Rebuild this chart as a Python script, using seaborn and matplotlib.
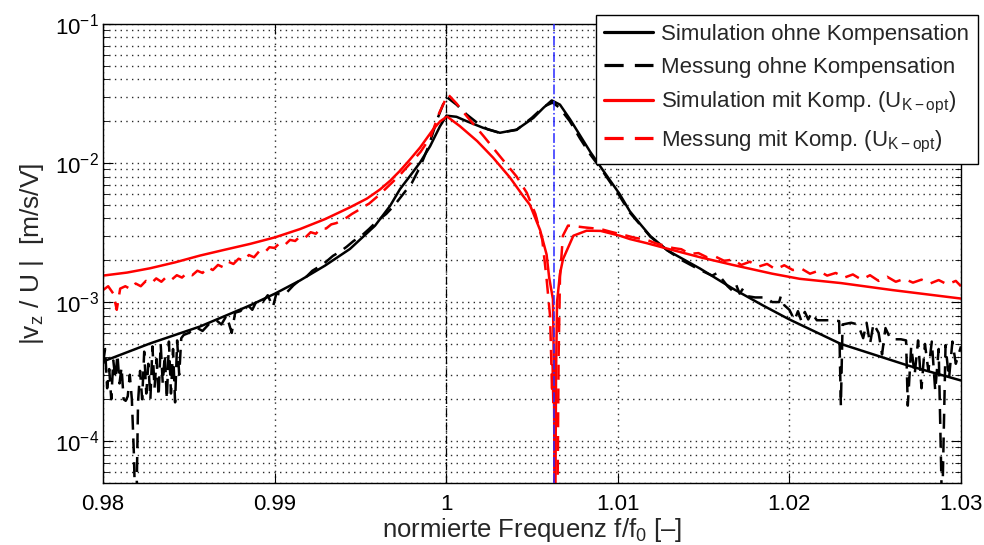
import numpy as np
import pandas as pd
import matplotlib
matplotlib.use("Agg")
import matplotlib.pyplot as plt
import seaborn as sns
from matplotlib.ticker import FixedLocator, FixedFormatter, LogLocator, NullFormatter

# ---------------- data ----------------
# Simulation ohne Kompensation (black solid)
f_sim_ohne = [0.98000, 0.98274, 0.98565, 0.98857, 0.99002, 0.99148, 0.99294, 0.99439,
              0.99585, 0.99673, 0.99731, 0.99789, 0.99848, 0.99906, 0.99964, 1.00002,
              1.00060, 1.00119, 1.00216, 1.00313, 1.00411, 1.00508, 1.00566, 1.00615,
              1.00663, 1.00722, 1.00780, 1.00840, 1.00910, 1.01010, 1.01070, 1.01130,
              1.01190, 1.01290, 1.01480, 1.01670, 1.01850, 1.02000, 1.02300, 1.02690,
              1.03000]
v_sim_ohne = [3.74e-4, 5.04e-4, 6.67e-4, 9.47e-4, 1.15e-3, 1.43e-3, 1.83e-3, 2.41e-3,
              3.54e-3, 4.92e-3, 6.5e-3, 8.07e-3, 1.01e-2, 1.32e-2, 1.84e-2, 2.19e-2,
              2.15e-2, 2.00e-2, 1.79e-2, 1.65e-2, 1.74e-2, 2.11e-2, 2.49e-2, 2.82e-2,
              2.63e-2, 2.06e-2, 1.58e-2, 1.20e-2, 9.0e-3, 6.0e-3, 4.5e-3, 3.65e-3,
              2.98e-3, 2.35e-3, 1.74e-3, 1.25e-3, 9.4e-4, 7.5e-4, 5.0e-4, 3.5e-4,
              2.73e-4]

# Messung ohne Kompensation (black dashed)
f_mess_ohne = [0.98000, 0.98012, 0.98024, 0.98036, 0.98048, 0.98060, 0.98072, 0.98084,
               0.98096, 0.98108, 0.98120, 0.98132, 0.98144, 0.98156, 0.98168, 0.98180,
               0.98192, 0.98204, 0.98216, 0.98228, 0.98240, 0.98252, 0.98264, 0.98276,
               0.98288, 0.98300, 0.98312, 0.98324, 0.98336, 0.98348, 0.98360, 0.98372,
               0.98384, 0.98396, 0.98408, 0.98420, 0.98432, 0.98444, 0.98456, 0.98470,
               0.9850, 0.9854, 0.9858, 0.9862, 0.9866, 0.9869, 0.9872, 0.9875, 0.9877,
               0.9880, 0.9884, 0.9887, 0.9890, 0.9893, 0.9896, 0.9899, 0.9901, 0.9904,
               0.9907, 0.9911, 0.9915, 0.9918, 0.9922, 0.9926, 0.9930, 0.9934, 0.9938,
               0.9942, 0.9946, 0.9950, 0.9955, 0.9960, 0.9965, 0.9970, 0.9975, 0.9980,
               0.9985, 0.9990, 0.9995, 1.0000, 1.0006, 1.0012, 1.0018, 1.0024, 1.0031,
               1.0041, 1.0050, 1.0057, 1.0062, 1.0066, 1.0072, 1.0078, 1.0084, 1.0091,
               1.0101, 1.0107, 1.0113, 1.0119, 1.0129, 1.0138, 1.0148,
               1.0155, 1.0158, 1.0161, 1.0164,
               1.0167, 1.0169, 1.0171, 1.0173, 1.0176, 1.0180, 1.0186, 1.0190, 1.0194,
               1.0195, 1.0197, 1.0200, 1.0203, 1.0205, 1.0207, 1.0209, 1.0211, 1.0213,
               1.0216, 1.0224, 1.0229, 1.0230, 1.0231, 1.0236, 1.0240, 1.0243, 1.0245,
               1.0247, 1.0249, 1.0252, 1.0254, 1.0256, 1.0259, 1.0265, 1.0268, 1.0269,
               1.0271, 1.0273, 1.0275, 1.0277, 1.0279, 1.0281, 1.0283, 1.0285, 1.0287,
               1.0289, 1.0291, 1.0293, 1.0295, 1.0297, 1.0300]
v_mess_ohne = [3.6e-4, 4.6e-4, 2.4e-4, 3.3e-4, 2.0e-4, 3.8e-4, 2.8e-4, 4.2e-4,
               2.6e-4, 3.4e-4, 2.0e-4, 1.95e-4, 2.1e-4, 3.0e-4, 2.0e-4, 8e-5,
               2e-5, 1.9e-4, 3.2e-4, 2.0e-4, 4.4e-4, 2.2e-4, 3.6e-4, 2.0e-4,
               4.8e-4, 2.4e-4, 3.9e-4, 2.1e-4, 5.0e-4, 2.6e-4, 4.2e-4, 2.0e-4,
               5.2e-4, 2.2e-4, 4.6e-4, 1.9e-4, 5.3e-4, 3.0e-4, 5.5e-4, 5.8e-4,
               6.0e-4, 6.6e-4, 6.2e-4, 7.0e-4, 7.4e-4, 6.9e-4, 8.0e-4, 6.0e-4, 8.4e-4,
               8.6e-4, 9.6e-4, 8.8e-4, 1.05e-3, 1.0e-3, 1.12e-3, 9.2e-4, 1.15e-3, 1.13e-3,
               1.17e-3, 1.32e-3, 1.45e-3, 1.50e-3, 1.68e-3, 1.80e-3, 1.95e-3, 2.15e-3, 2.30e-3,
               2.50e-3, 2.75e-3, 2.95e-3, 3.35e-3, 3.85e-3, 4.3e-3, 5.0e-3, 6.0e-3, 7.2e-3,
               9.5e-3, 1.35e-2, 2.10e-2, 3.00e-2, 2.63e-2, 2.23e-2, 1.95e-2, 1.75e-2, 1.65e-2,
               1.73e-2, 2.12e-2, 2.55e-2, 2.72e-2, 2.50e-2, 2.00e-2, 1.50e-2, 1.15e-2, 8.8e-3,
               5.8e-3, 4.4e-3, 3.6e-3, 2.95e-3, 2.35e-3, 1.98e-3, 1.70e-3,
               1.55e-3, 1.62e-3, 1.45e-3, 1.30e-3,
               1.20e-3, 1.33e-3, 1.15e-3, 1.25e-3, 1.10e-3, 1.08e-3, 1.08e-3, 1.00e-3, 1.00e-3,
               1.10e-3, 9.5e-4, 8.8e-4, 7.4e-4, 8.6e-4, 7.3e-4, 8.5e-4, 7.5e-4, 8.4e-4,
               7.4e-4, 7.4e-4, 7.3e-4, 1.8e-4, 6.9e-4, 7.1e-4, 6.9e-4, 5.5e-4, 7.1e-4,
               5.0e-4, 7.0e-4, 6.0e-4, 4.2e-4, 6.5e-4, 5.4e-4, 5.4e-4, 5.3e-4, 1.8e-4,
               4.8e-4, 3.0e-4, 5.3e-4, 2.4e-4, 5.0e-4, 3.2e-4, 5.2e-4, 2.3e-4, 4.6e-4,
               3e-5, 4.9e-4, 2.8e-4, 5.2e-4, 3.6e-4, 4.8e-4]

# Simulation mit Komp. (red solid)
f_sim_mit = [0.98000, 0.98140, 0.98274, 0.98420, 0.98565, 0.98710, 0.98857, 0.99002,
             0.99148, 0.99294, 0.99439, 0.99538, 0.99614, 0.99673, 0.99731, 0.99789,
             0.99848, 0.99923, 0.99964, 1.00005, 1.00080, 1.00180, 1.00273, 1.00372,
             1.00448, 1.00488, 1.00547, 1.00585, 1.00600, 1.00622, 1.00628, 1.00634,
             1.00640, 1.00646, 1.00663, 1.00681, 1.00741, 1.00818, 1.00900, 1.01012,
             1.01070, 1.01170, 1.01290, 1.01480, 1.01670, 1.01900, 1.02060, 1.02300,
             1.02600, 1.03000]
v_sim_mit = [1.55e-3, 1.63e-3, 1.75e-3, 1.93e-3, 2.16e-3, 2.38e-3, 2.62e-3, 2.92e-3,
             3.35e-3, 3.95e-3, 4.8e-3, 5.55e-3, 6.45e-3, 7.45e-3, 8.8e-3, 1.06e-2,
             1.294e-2, 1.74e-2, 1.99e-2, 2.16e-2, 1.84e-2, 1.44e-2, 1.094e-2, 7.85e-3,
             5.8e-3, 5.0e-3, 3.3e-3, 2.2e-3, 1.5e-3, 1.05e-3, 3e-4, 1e-5,
             3e-4, 1.0e-3, 1.6e-3, 2.04e-3, 3.0e-3, 3.26e-3, 3.25e-3, 3.0e-3,
             2.84e-3, 2.65e-3, 2.42e-3, 2.1e-3, 1.85e-3, 1.6e-3, 1.47e-3, 1.37e-3,
             1.22e-3, 1.06e-3]

# Messung mit Komp. (red dashed)
f_mess_mit = [0.9800, 0.9803, 0.9806, 0.9808, 0.9810, 0.9813, 0.9816, 0.9819, 0.9822,
              0.9825, 0.9828, 0.9831, 0.9834, 0.9837, 0.9840, 0.9843, 0.9846, 0.9849,
              0.9852, 0.9855, 0.9858, 0.9861, 0.9864, 0.9867, 0.9870, 0.9873, 0.9876,
              0.9879, 0.9882, 0.9885, 0.9888, 0.9891, 0.9894, 0.9897, 0.9900, 0.9903,
              0.9906, 0.9909, 0.9912, 0.9915, 0.9918, 0.9921, 0.9924, 0.9927, 0.9930,
              0.9933, 0.9936, 0.9939, 0.9942, 0.9945, 0.9948, 0.9951, 0.9955, 0.9961,
              0.9973, 0.9985, 0.9991, 0.9996, 1.0001, 1.0006, 1.0012, 1.0022, 1.0031,
              1.0041, 1.0047, 1.0052, 1.0056, 1.00585, 1.00605, 1.00612, 1.00617,
              1.00620, 1.00624, 1.00627, 1.00630, 1.00634, 1.00645, 1.00655, 1.00663,
              1.00680, 1.0071, 1.0076, 1.0080, 1.0085, 1.0090, 1.0096, 1.0103, 1.0110,
              1.0117, 1.0122, 1.0127, 1.0132, 1.0137, 1.0142, 1.0147, 1.0152, 1.0157,
              1.0162, 1.0167, 1.0172, 1.0177, 1.0182, 1.0187, 1.0192, 1.0197, 1.0202,
              1.0207, 1.0212, 1.0217, 1.0222, 1.0227, 1.0232, 1.0237, 1.0242, 1.0247,
              1.0252, 1.0257, 1.0262, 1.0267, 1.0272, 1.0277, 1.0282, 1.0287, 1.0292,
              1.0297, 1.0300]
v_mess_mit = [1.22e-3, 1.30e-3, 1.15e-3, 8.8e-4, 1.25e-3, 1.30e-3, 1.24e-3, 1.36e-3, 1.30e-3,
              1.42e-3, 1.36e-3, 1.48e-3, 1.40e-3, 1.52e-3, 1.45e-3, 1.56e-3, 1.50e-3, 1.62e-3,
              1.56e-3, 1.68e-3, 1.62e-3, 1.78e-3, 1.70e-3, 1.85e-3, 1.78e-3, 1.95e-3, 1.88e-3,
              2.05e-3, 1.98e-3, 2.18e-3, 2.10e-3, 2.32e-3, 2.26e-3, 2.48e-3, 2.45e-3, 2.66e-3,
              2.58e-3, 2.80e-3, 2.75e-3, 2.98e-3, 2.92e-3, 3.18e-3, 3.10e-3, 3.40e-3, 3.38e-3,
              3.62e-3, 3.70e-3, 3.88e-3, 4.05e-3, 4.30e-3, 4.52e-3, 4.78e-3, 5.1e-3, 5.9e-3,
              8.2e-3, 1.2e-2, 1.55e-2, 2.30e-2, 3.12e-2, 2.68e-2, 2.17e-2, 1.55e-2, 1.13e-2,
              8.0e-3, 6.1e-3, 4.3e-3, 2.8e-3, 1.47e-3, 8e-4, 4e-4, 2.2e-4,
              3.5e-4, 1.9e-4, 2.4e-4, 1.7e-4, 1e-5, 1e-5, 4e-4, 1.5e-3,
              3.0e-3, 3.55e-3, 3.5e-3, 3.45e-3, 3.4e-3, 3.35e-3, 3.2e-3, 3.05e-3, 2.9e-3,
              2.80e-3, 2.65e-3, 2.55e-3, 2.45e-3, 2.40e-3, 2.22e-3, 2.25e-3, 2.10e-3, 2.12e-3,
              1.98e-3, 2.02e-3, 1.85e-3, 1.95e-3, 1.80e-3, 1.88e-3, 1.72e-3, 1.84e-3, 1.70e-3,
              1.74e-3, 1.60e-3, 1.68e-3, 1.55e-3, 1.62e-3, 1.50e-3, 1.58e-3, 1.45e-3, 1.56e-3,
              1.42e-3, 1.52e-3, 1.40e-3, 1.47e-3, 1.38e-3, 1.45e-3, 1.36e-3, 1.44e-3, 1.34e-3,
              1.42e-3, 1.30e-3]

series_labels = ["Simulation ohne Kompensation",
                 "Messung ohne Kompensation",
                 "Simulation mit Komp. (U$_{\\mathrm{K-opt}}$)",
                 "Messung mit Komp. (U$_{\\mathrm{K-opt}}$)"]

x_ticks = [0.98, 0.99, 1.00, 1.01, 1.02, 1.03]
x_tick_labels = ["0.98", "0.99", "1", "1.01", "1.02", "1.03"]
y_ticks = [1e-4, 1e-3, 1e-2, 1e-1]
y_tick_labels = ["$10^{-4}$", "$10^{-3}$", "$10^{-2}$", "$10^{-1}$"]
v_lines = [1.0, 1.0063]
xlim = (0.98, 1.03)
ylim = (5e-5, 1e-1)

# ---------------- style ----------------
sns.set_style("ticks")
plt.rcParams["font.family"] = ["Liberation Sans", "DejaVu Sans"]
plt.rcParams["mathtext.fontset"] = "custom"
plt.rcParams["mathtext.rm"] = "Liberation Sans"
plt.rcParams["mathtext.it"] = "Liberation Sans:italic"
plt.rcParams["mathtext.bf"] = "Liberation Sans:bold"
plt.rcParams["mathtext.sf"] = "Liberation Sans"
plt.rcParams["axes.unicode_minus"] = True

fig = plt.figure(figsize=(9.84, 5.45), dpi=100)
ax = fig.add_axes([0.1047, 0.1138, 0.8719, 0.8422])

lw = 1.8
dash = (0, (6, 3.5))
series = [
    (f_sim_ohne, v_sim_ohne, "black", "-"),
    (f_mess_ohne, v_mess_ohne, "black", dash),
    (f_sim_mit, v_sim_mit, "#ff0000", "-"),
    (f_mess_mit, v_mess_mit, "#ff0000", dash),
]
handles = []
for (fx, vy, col, ls), lab in zip(series, series_labels):
    df = pd.DataFrame({"f": fx, "v": vy})
    sns.lineplot(data=df, x="f", y="v", ax=ax, color=col, linestyle=ls,
                 linewidth=lw, estimator=None, sort=False, legend=False)
    ln = ax.lines[-1]
    ln.set_label(lab)
    handles.append(ln)

ax.axvline(v_lines[0], color="black", linestyle="-.", linewidth=0.9, zorder=5)
ax.axvline(v_lines[1], color="#2828ff", linestyle="-.", linewidth=1.1, zorder=5)

ax.set_yscale("log")
ax.set_xlim(*xlim)
ax.set_ylim(*ylim)

ax.xaxis.set_major_locator(FixedLocator(x_ticks))
ax.xaxis.set_major_formatter(FixedFormatter(x_tick_labels))
ax.yaxis.set_major_locator(FixedLocator(y_ticks))
ax.yaxis.set_major_formatter(FixedFormatter(y_tick_labels))
ax.yaxis.set_minor_locator(LogLocator(base=10, subs=np.arange(2, 10), numticks=20))
ax.yaxis.set_minor_formatter(NullFormatter())

ax.tick_params(which="both", direction="in", top=True, right=True, colors="black")
ax.tick_params(which="major", length=7, width=0.8, labelsize=16)
ax.tick_params(axis="x", which="major", pad=8)
ax.tick_params(axis="y", which="major", pad=3)
ax.tick_params(which="minor", length=4, width=0.6)

grid_kw = dict(color="#2a2a2a", linestyle=(0, (1, 3.1)), linewidth=1.0)
ax.grid(True, which="major", axis="both", **grid_kw)
ax.grid(True, which="minor", axis="y", **grid_kw)

for s in ax.spines.values():
    s.set_visible(True)
    s.set_linewidth(1.0)
    s.set_color("black")

ax.set_xlabel("normierte Frequenz f/f$_{\\mathrm{0}}$ [–]", fontsize=18.5, labelpad=1)
ax.set_ylabel("|v$_{\\mathrm{z}}$ / U |  [m/s/V]", fontsize=19, labelpad=6)

leg = ax.legend(handles=handles, labels=series_labels, loc="upper right",
                bbox_to_anchor=(0.9939, 0.9725), bbox_transform=fig.transFigure,
                borderaxespad=0, fontsize=16, frameon=True, fancybox=False,
                framealpha=1, edgecolor="black", handlelength=2.2,
                handletextpad=0.35, borderpad=0.4, labelspacing=0.55)
leg.get_frame().set_linewidth(1.0)
for lh in leg.get_lines():
    lh.set_linewidth(2.3)

fig.savefig("out.png", dpi=100)
